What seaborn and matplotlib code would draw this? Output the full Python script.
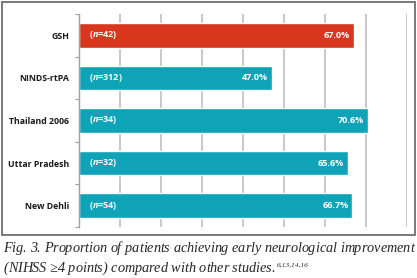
import matplotlib
matplotlib.use("Agg")
import matplotlib.pyplot as plt
import seaborn as sns
import pandas as pd
from matplotlib.patches import Rectangle
from matplotlib.ticker import FixedLocator

studies = ["GSH", "NINDS-rtPA", "Thailand 2006", "Uttar Pradesh", "New Dehli"]
values = [67.0, 47.0, 70.6, 65.6, 66.7]
n_values = [42, 312, 34, 32, 54]
bar_colors = ["#D9361E", "#0FA3B8", "#0FA3B8", "#0FA3B8", "#0FA3B8"]
caption_line1 = "Fig. 3. Proportion of patients achieving early neurological improvement"
caption_line2 = "(NIHSS \u22654 points) compared with other studies."
caption_refs = "6,13,14,16"

df = pd.DataFrame({"study": studies, "value": values})

sns.set_theme(style="white")
plt.rcParams["font.family"] = ["Open Sans", "DejaVu Sans"]
plt.rcParams["mathtext.fontset"] = "custom"
plt.rcParams["mathtext.it"] = "Open Sans:italic:bold"
plt.rcParams["mathtext.rm"] = "Open Sans:bold"

W, H = 417, 278
fig = plt.figure(figsize=(W / 100, H / 100), dpi=100)
fig.patch.set_facecolor("white")

# outer frame
fig.add_artist(Rectangle((1.5 / W, 1 - 234.5 / H), 413 / W, 233 / H,
                         transform=fig.transFigure, fill=False,
                         edgecolor="#6e6e6e", linewidth=1.3))

ax = fig.add_axes([79 / W, 1 - 227 / H, (407 - 79) / W, (227 - 14) / H])
sns.barplot(data=df, x="value", y="study", hue="study", palette=bar_colors,
            orient="h", width=0.58, legend=False, ax=ax, saturation=1)

ax.set_xlim(0, 80)
ax.set_ylim(len(studies) - 0.5, -0.5)
ax.set_xticks(range(0, 81, 10))
ax.set_xticklabels([])
ax.tick_params(axis="x", length=0)
ax.grid(axis="x", color="#c8c8c8", linewidth=1.4)
ax.set_axisbelow(True)
for s in ["top", "right", "bottom"]:
    ax.spines[s].set_visible(False)
ax.spines["left"].set_color("#a0a0a0")
ax.spines["left"].set_linewidth(1.0)

ax.set_xlabel("")
ax.set_ylabel("")
ax.tick_params(axis="y", which="major", length=0, pad=7)
ax.yaxis.set_minor_locator(FixedLocator([i - 0.5 for i in range(len(studies) + 1)]))
ax.tick_params(axis="y", which="minor", length=3, width=0.8, color="#a0a0a0", left=True)
for lab in ax.get_yticklabels():
    lab.set_fontsize(6.3)
    lab.set_fontweight("bold")
    lab.set_color("#1a1a1a")

for i, (v, n) in enumerate(zip(values, n_values)):
    ax.text(v - 1.0, i, f"{v:.1f}%", color="white", fontsize=6.5,
            fontweight="bold", ha="right", va="center")
    ax.text(2.4, i, r"($\mathit{n}$=" + str(n) + ")", color="white", fontsize=6.5,
            fontweight="bold", ha="left", va="center")

# caption with letter tracking, first line justified
cap_font = dict(family=["Liberation Serif", "DejaVu Serif"], style="italic",
                fontsize=10.3, color="#262626")
fig.canvas.draw()
renderer = fig.canvas.get_renderer()
_cache = {}


def char_width(c, font):
    key = (c, font["fontsize"])
    if key not in _cache:
        if c == " ":
            a = fig.text(0, 0, "x x", **font)
            b = fig.text(0, 0, "xx", **font)
            w = a.get_window_extent(renderer).width - b.get_window_extent(renderer).width
            a.remove()
            b.remove()
        else:
            t = fig.text(0, 0, c, **font)
            w = t.get_window_extent(renderer).width
            t.remove()
        _cache[key] = w
    return _cache[key]


def draw_tracked(s, x0, ybase, track, font):
    x = x0
    for c in s:
        if c != " ":
            fig.text(x / W, ybase, c, va="baseline", ha="left", **font)
        x += char_width(c, font) + track
    return x - track


x_left, x_right = 3.0, 414.0
natural = sum(char_width(c, cap_font) for c in caption_line1)
track = (x_right - x_left - natural) / (len(caption_line1) - 1)
draw_tracked(caption_line1, x_left, 1 - 252 / H, track, cap_font)
end2 = draw_tracked(caption_line2, x_left, 1 - 272 / H, track, cap_font)
sup_font = {**cap_font, "fontsize": 5.4}
sup = fig.text((end2 + 1.5) / W, 1 - 266 / H, caption_refs, va="baseline",
               ha="left", **sup_font)

fig.savefig("out.png", dpi=100)
